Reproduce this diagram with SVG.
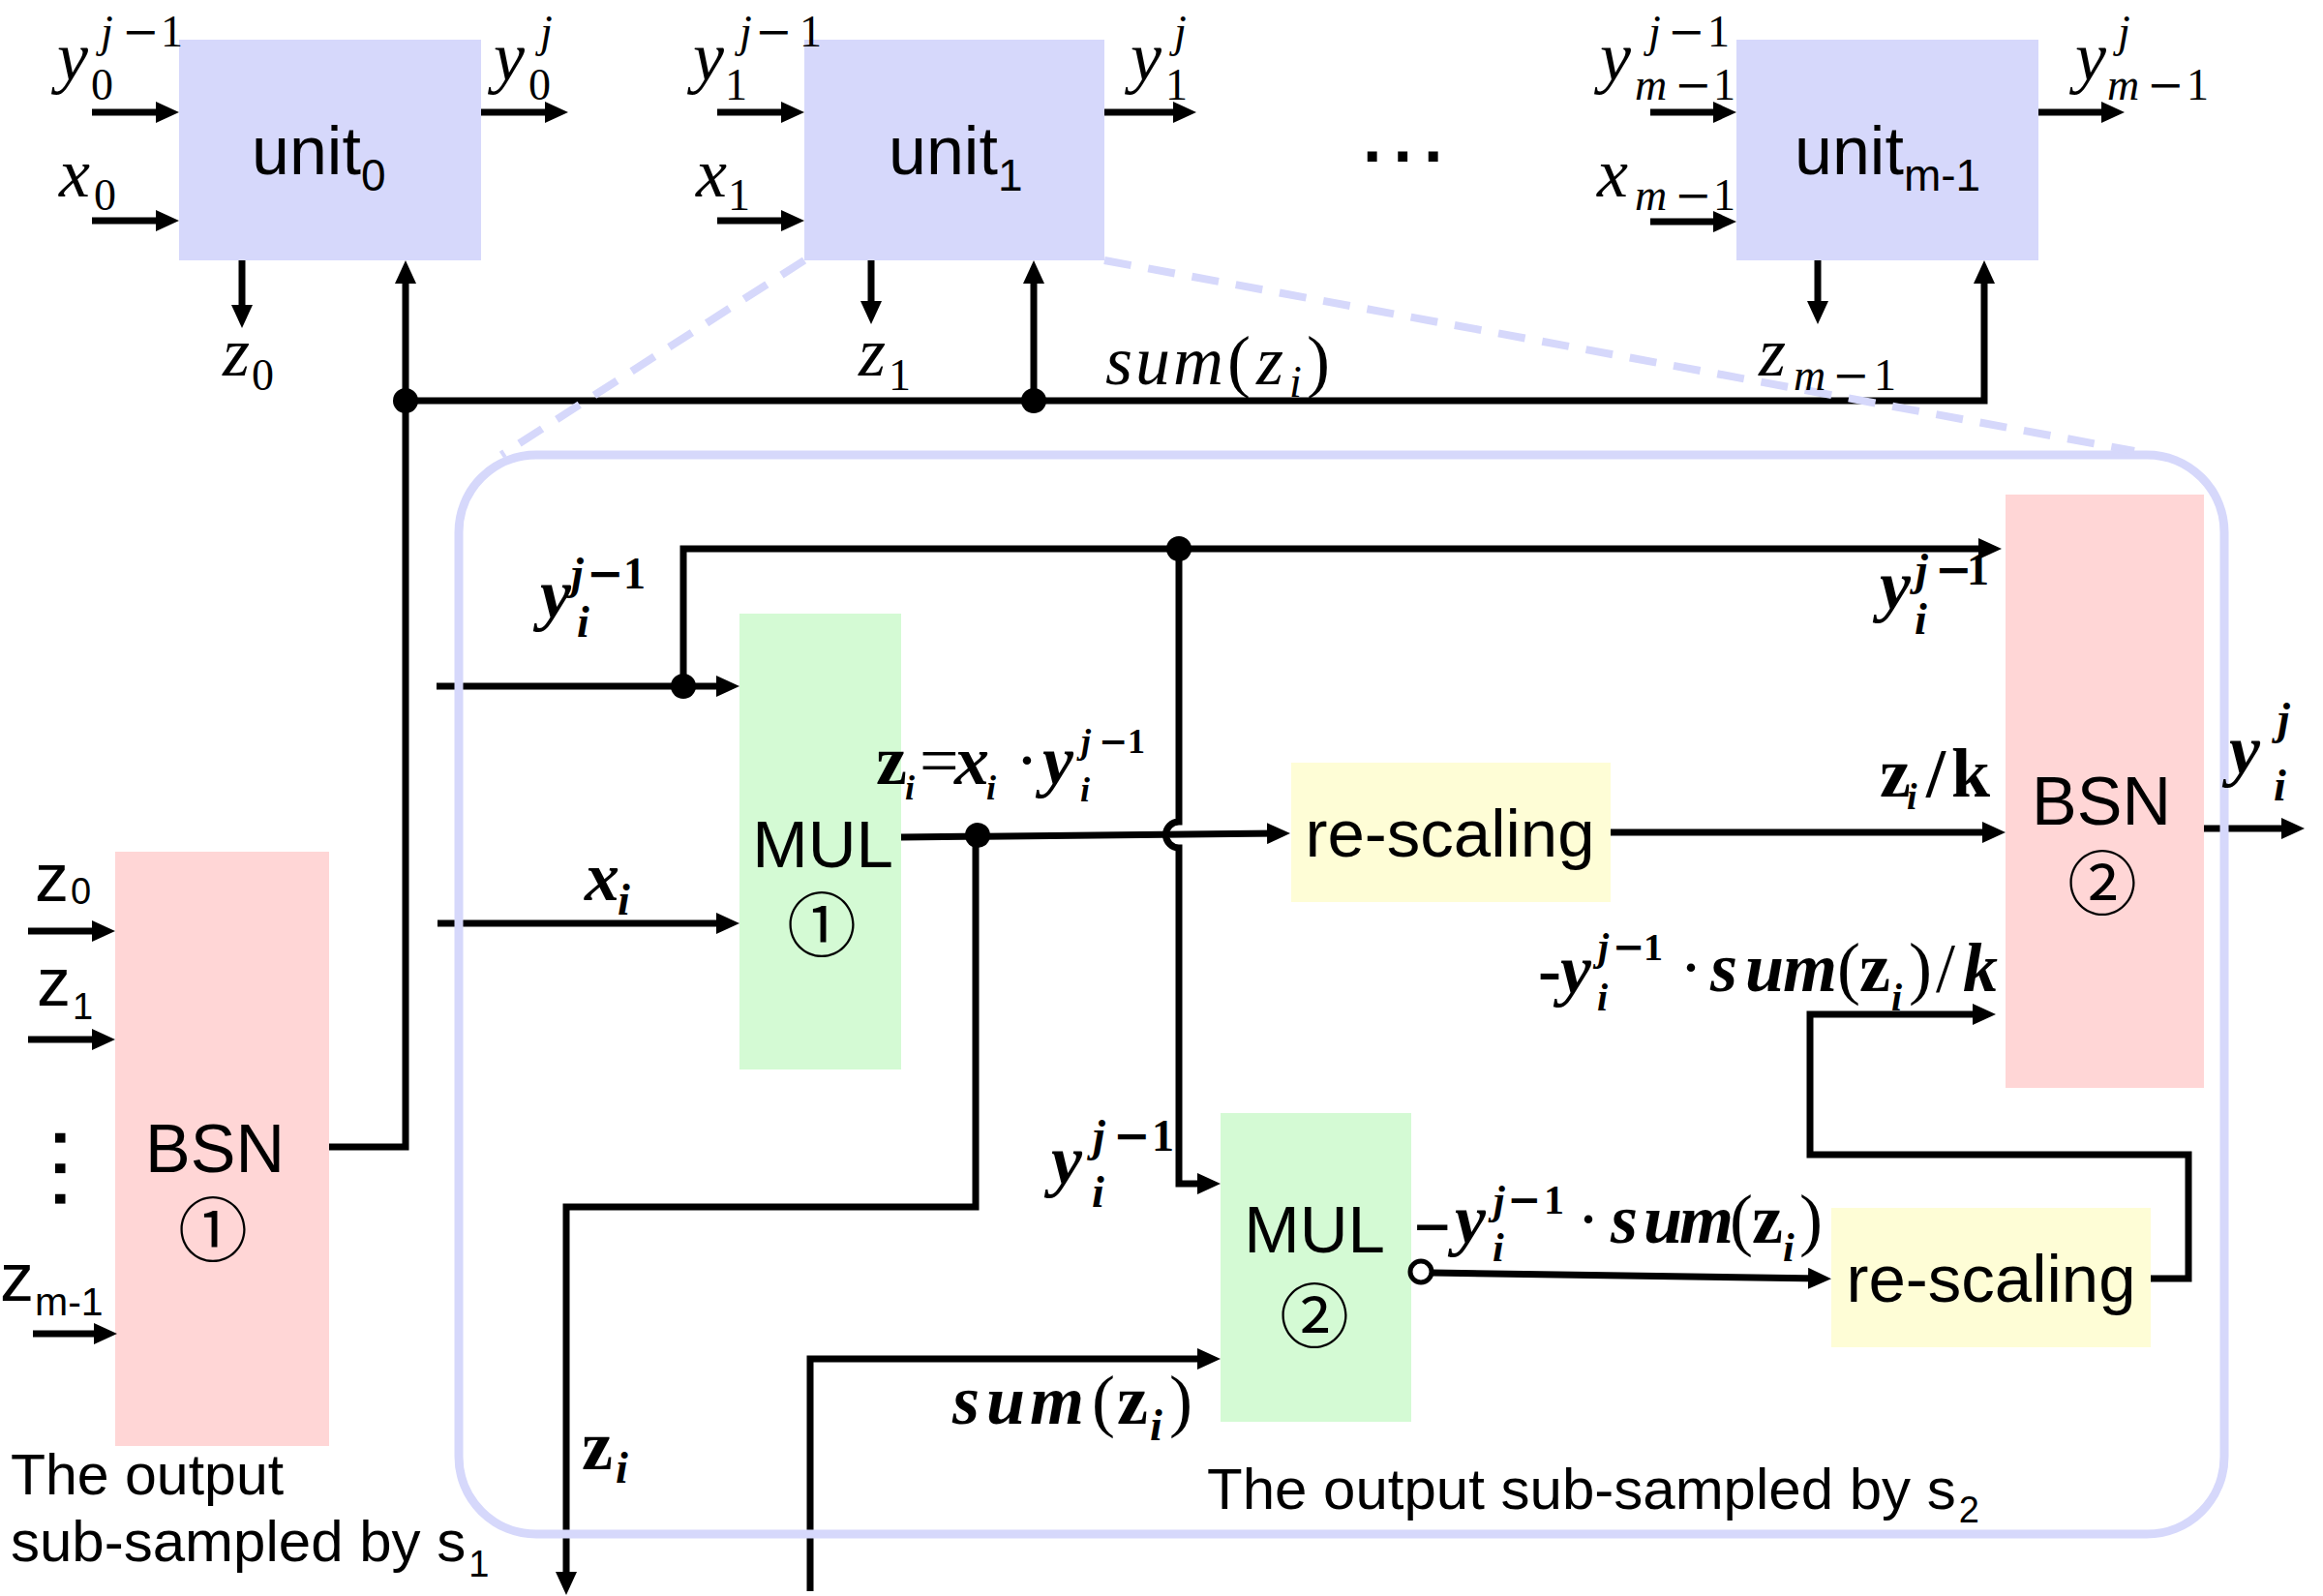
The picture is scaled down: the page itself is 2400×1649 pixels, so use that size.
<svg xmlns="http://www.w3.org/2000/svg" width="2400" height="1649" viewBox="0 0 2400 1649">
<defs>
<marker id="ah" viewBox="0 0 24 22" refX="14" refY="11" markerWidth="24" markerHeight="22" markerUnits="userSpaceOnUse" orient="auto"><path d="M0,0 L24,11 L0,22 z" fill="#000"/></marker>
</defs>
<style>
.w{fill:none;stroke:#000;stroke-width:7}
.a{marker-end:url(#ah)}
.unit{fill:#d6d8fb}
.mul{fill:#d4fad4}
.bsn{fill:#ffd6d6}
.rs{fill:#fefdd6}
.sf{font-family:"Liberation Sans",Arial,sans-serif;fill:#000}
.m{font-family:"Liberation Serif","Times New Roman",serif;font-style:italic;font-size:72px;fill:#000}
.s{font-size:46px}
.u{font-style:normal}
.mn{font-family:"DejaVu Serif",serif;font-style:normal}
.b{font-weight:bold}
.c{font-family:"Noto Sans CJK SC","Noto Sans CJK JP",sans-serif;font-size:72px;font-weight:normal}
.dash{fill:none;stroke:#d6d8fb;stroke-width:8;stroke-dasharray:28 18}
.dot{fill:#000}
</style>
<rect x="0" y="0" width="2400" height="1649" fill="#fff"/>

<g id="unit0">
<rect class="unit" x="185" y="41" width="312" height="228"/>
<text class="sf" font-size="70"><tspan x="260" y="180">unit</tspan><tspan dy="17" font-size="46">0</tspan></text>
</g>
<g id="unit1">
<rect class="unit" x="831" y="41" width="310" height="228"/>
<text class="sf" font-size="70"><tspan x="918" y="180">unit</tspan><tspan dy="17" font-size="46">1</tspan></text>
</g>
<g id="unitm1">
<rect class="unit" x="1794" y="41" width="312" height="228"/>
<text class="sf" font-size="70"><tspan x="1854" y="180">unit</tspan><tspan dy="17" font-size="46">m-1</tspan></text>
</g>
<g id="bsn1">
<rect class="bsn" x="119" y="880" width="221" height="614"/>
<text class="sf" font-size="70" text-anchor="middle" x="222" y="1211">BSN</text>
<text class="c" text-anchor="middle" x="220" y="1297">①</text>
</g>
<g id="mul1">
<rect class="mul" x="764" y="634" width="167" height="471"/>
<text class="sf" font-size="69" text-anchor="middle" x="850" y="896">MUL</text>
<text class="c" text-anchor="middle" x="849" y="982">①</text>
</g>
<g id="mul2">
<rect class="mul" x="1261" y="1150" width="197" height="319"/>
<text class="sf" font-size="69" text-anchor="middle" x="1358" y="1294">MUL</text>
<text class="c" text-anchor="middle" x="1358" y="1386">②</text>
</g>
<g id="rescale1">
<rect class="rs" x="1334" y="788" width="330" height="144"/>
<text class="sf" font-size="69" text-anchor="middle" x="1498" y="885">re-scaling</text>
</g>
<g id="rescale2">
<rect class="rs" x="1892" y="1248" width="330" height="144"/>
<text class="sf" font-size="69" text-anchor="middle" x="2057" y="1345">re-scaling</text>
</g>
<g id="bsn2">
<rect class="bsn" x="2072" y="511" width="205" height="613"/>
<text class="sf" font-size="70" text-anchor="middle" x="2171" y="852">BSN</text>
<text class="c" text-anchor="middle" x="2172" y="939">②</text>
</g>

<g id="connectors" class="w">
<path class="a" d="M95,116H175"/>
<path class="a" d="M95,228H175"/>
<path class="a" d="M497,116H577"/>
<path class="a" d="M250,269V329"/>
<path class="a" d="M741,116H821"/>
<path class="a" d="M741,228H821"/>
<path class="a" d="M1141,116H1226"/>
<path class="a" d="M900,269V325"/>
<path class="a" d="M1705,116H1784"/>
<path class="a" d="M1705,229H1784"/>
<path class="a" d="M2106,116H2185"/>
<path class="a" d="M1878,269V325"/>
<path class="a" d="M340,1185H419V279"/>
<path class="a" d="M419,414H2050V279"/>
<path class="a" d="M1068,414V279"/>
<path class="a" d="M29,962H109"/>
<path class="a" d="M29,1074H109"/>
<path class="a" d="M34,1378H111"/>
<path class="a" d="M451,709H754"/>
<path class="a" d="M706,709V567H2058"/>
<path class="a" d="M452,954H754"/>
<path class="a" d="M931,865L1323,861"/>
<path class="a" d="M1218,567V849A13.5,13.5 0 0 0 1218,876V1223H1251"/>
<path class="a" d="M1008,863V1247H585V1638"/>
<path class="a" d="M837,1644V1404H1251"/>
<path class="a" d="M1479,1315L1882,1321"/>
<path class="a" d="M2222,1321H2261V1193H1870V1048H2052"/>
<path class="a" d="M1664,860H2062"/>
<path class="a" d="M2277,856H2371"/>
<circle class="dot" cx="419" cy="414" r="13" stroke="none"/>
<circle class="dot" cx="1068" cy="414" r="13" stroke="none"/>
<circle class="dot" cx="706" cy="709" r="13" stroke="none"/>
<circle class="dot" cx="1218" cy="567" r="13" stroke="none"/>
<circle class="dot" cx="1010" cy="863" r="13" stroke="none"/>
<circle cx="1468" cy="1314" r="11" fill="#fff" stroke-width="5"/>
</g>

<g id="container">
<rect x="474" y="470" width="1824" height="1115" rx="80" fill="none" stroke="#d6d8fb" stroke-width="9"/>
<path class="dash" d="M831,269L518,470"/>
<path class="dash" d="M1141,269L2205,466"/>
</g>

<g id="labels">
<text class="m"><tspan x="59" y="83">y</tspan><tspan class="s u" x="94" y="103">0</tspan><tspan class="s" x="104" y="48">j</tspan><tspan class="s mn" x="126" y="48">−</tspan><tspan class="s u" x="166" y="48">1</tspan></text>
<text class="m"><tspan x="61" y="203">x</tspan><tspan class="s u" x="97" y="217">0</tspan></text>
<text class="m"><tspan x="510" y="83">y</tspan><tspan class="s u" x="546" y="103">0</tspan><tspan class="s" x="558" y="48">j</tspan></text>
<text class="m"><tspan x="230" y="388">z</tspan><tspan class="s u" x="260" y="403">0</tspan></text>

<text class="m"><tspan x="716" y="83">y</tspan><tspan class="s u" x="749" y="103">1</tspan><tspan class="s" x="764" y="48">j</tspan><tspan class="s mn" x="780" y="48">−</tspan><tspan class="s u" x="826" y="48">1</tspan></text>
<text class="m"><tspan x="719" y="203">x</tspan><tspan class="s u" x="752" y="217">1</tspan></text>
<text class="m"><tspan x="1168" y="83">y</tspan><tspan class="s u" x="1204" y="103">1</tspan><tspan class="s" x="1213" y="48">j</tspan></text>
<text class="m"><tspan x="887" y="388">z</tspan><tspan class="s u" x="918" y="403">1</tspan></text>
<text class="m"><tspan x="1142" y="397" letter-spacing="3">sum</tspan><tspan class="u" x="1268" y="397">(</tspan><tspan x="1298" y="397">z</tspan><tspan class="s" x="1332" y="410">i</tspan><tspan class="u" x="1350" y="397">)</tspan></text>

<text class="m"><tspan x="1653" y="83">y</tspan><tspan class="s" x="1689" y="103">m</tspan><tspan class="s mn" x="1730" y="103">−</tspan><tspan class="s u" x="1770" y="103">1</tspan><tspan class="s" x="1703" y="48">j</tspan><tspan class="s mn" x="1723" y="48">−</tspan><tspan class="s u" x="1764" y="48">1</tspan></text>
<text class="m"><tspan x="1650" y="203">x</tspan><tspan class="s" x="1689" y="217">m</tspan><tspan class="s mn" x="1730" y="217">−</tspan><tspan class="s u" x="1770" y="217">1</tspan></text>
<text class="m"><tspan x="2144" y="83">y</tspan><tspan class="s" x="2177" y="103">m</tspan><tspan class="s mn" x="2218" y="103">−</tspan><tspan class="s u" x="2259" y="103">1</tspan><tspan class="s" x="2188" y="48">j</tspan></text>
<text class="m"><tspan x="1817" y="388">z</tspan><tspan class="s" x="1853" y="403">m</tspan><tspan class="s mn" x="1893" y="403">−</tspan><tspan class="s u" x="1936" y="403">1</tspan></text>

<text class="sf b" font-size="70" x="1408" y="167" letter-spacing="12">...</text>

<text class="sf" font-size="70"><tspan x="36" y="931">z</tspan><tspan x="73" y="934" font-size="38">0</tspan></text>
<text class="sf" font-size="70"><tspan x="38" y="1039">z</tspan><tspan x="75" y="1053" font-size="38">1</tspan></text>
<text class="sf" font-size="70"><tspan x="0" y="1344">z</tspan><tspan x="36" y="1359" font-size="41">m-1</tspan></text>
<text class="sf b" font-size="70" transform="translate(57,1166) rotate(90)" letter-spacing="12">...</text>

<text class="sf" font-size="59" x="11" y="1544">The output</text>
<text class="sf" font-size="60"><tspan x="11" y="1613">sub-sampled by s</tspan><tspan dx="3" dy="16" font-size="38">1</tspan></text>
<text class="sf" font-size="60"><tspan x="1247" y="1559">The output sub-sampled by s</tspan><tspan dx="3" dy="14" font-size="38">2</tspan></text>

<g class="b">
<text class="m" font-size="66"><tspan x="558" y="638">y</tspan><tspan class="s" x="596" y="658">i</tspan><tspan class="s" x="590" y="608">j</tspan><tspan class="s mn" x="606" y="608">−</tspan><tspan class="s u" x="644" y="608">1</tspan></text>
<text class="m"><tspan x="604" y="930">x</tspan><tspan class="s" x="638" y="945">i</tspan></text>
<text class="m" font-size="52"><tspan class="u" x="905" y="810">z</tspan><tspan x="935" y="826" font-size="36">i</tspan><tspan class="u" x="950" y="810" font-weight="normal">=</tspan><tspan x="986" y="810">x</tspan><tspan x="1019" y="826" font-size="36">i</tspan><tspan class="u" x="1049" y="810" font-weight="normal">·</tspan><tspan x="1077" y="810">y</tspan><tspan x="1116" y="828" font-size="36">i</tspan><tspan x="1117" y="778" font-size="36">j</tspan><tspan class="mn" x="1135" y="778" font-size="36">−</tspan><tspan class="u" x="1165" y="778" font-size="36">1</tspan></text>
<text class="m" font-size="66"><tspan x="1942" y="629">y</tspan><tspan class="s" x="1978" y="655">i</tspan><tspan class="s" x="1979" y="604">j</tspan><tspan class="s mn" x="1999" y="604">−</tspan><tspan class="s u" x="2032" y="604">1</tspan></text>
<text class="m" font-size="56"><tspan class="u" x="1942" y="823">z</tspan><tspan x="1970" y="836" font-size="38">i</tspan><tspan class="u" x="1990" y="823">/</tspan><tspan class="u" x="2016" y="823">k</tspan></text>
<text class="m" font-size="80"><tspan x="2303" y="799">y</tspan><tspan class="s" x="2349" y="827">i</tspan><tspan class="s" x="2353" y="758">j</tspan></text>
<text class="m" font-size="58"><tspan class="u" x="1589" y="1026">-</tspan><tspan x="1612" y="1026">y</tspan><tspan x="1650" y="1044" font-size="40">i</tspan><tspan x="1651" y="992" font-size="40">j</tspan><tspan class="mn" x="1666" y="992" font-size="40">−</tspan><tspan class="u" x="1698" y="992" font-size="40">1</tspan><tspan class="u" x="1735" y="1024" font-weight="normal">·</tspan><tspan x="1767" y="1024">s</tspan><tspan x="1803" y="1024">u</tspan><tspan x="1842" y="1024">m</tspan><tspan class="u" x="1898" y="1024" font-weight="normal">(</tspan><tspan class="u" x="1921" y="1024">z</tspan><tspan x="1954" y="1044" font-size="40">i</tspan><tspan class="u" x="1972" y="1024" font-weight="normal">)</tspan><tspan class="u" x="2000" y="1024" font-weight="normal">/</tspan><tspan x="2028" y="1024">k</tspan></text>
<text class="m" font-size="62"><tspan class="mn" x="1459" y="1284" font-size="50">−</tspan><tspan x="1503" y="1284">y</tspan><tspan x="1542" y="1303" font-size="42">i</tspan><tspan x="1543" y="1254" font-size="42">j</tspan><tspan class="mn" x="1557" y="1254" font-size="42">−</tspan><tspan class="u" x="1595" y="1254" font-size="42">1</tspan><tspan class="u" x="1629" y="1284" font-weight="normal">·</tspan><tspan x="1664" y="1284">s</tspan><tspan x="1698" y="1284">u</tspan><tspan x="1735" y="1284">m</tspan><tspan class="u" x="1787" y="1284" font-weight="normal">(</tspan><tspan class="u" x="1810" y="1284">z</tspan><tspan x="1842" y="1303" font-size="42">i</tspan><tspan class="u" x="1859" y="1284" font-weight="normal">)</tspan></text>
<text class="m" font-size="76"><tspan x="984" y="1471">s</tspan><tspan x="1019" y="1471">u</tspan><tspan x="1064" y="1471">m</tspan><tspan class="u" x="1128" y="1471" font-weight="normal">(</tspan><tspan class="u" x="1154" y="1471">z</tspan><tspan x="1188" y="1488" font-size="46">i</tspan><tspan class="u" x="1208" y="1471" font-weight="normal">)</tspan></text>
<text class="m"><tspan class="u" x="601" y="1518">z</tspan><tspan class="s" x="636" y="1532">i</tspan></text>
<text class="m" font-size="68"><tspan x="1086" y="1223">y</tspan><tspan class="s" x="1128" y="1247">i</tspan><tspan class="s" x="1129" y="1189">j</tspan><tspan class="s mn" x="1150" y="1189">−</tspan><tspan class="s u" x="1190" y="1189">1</tspan></text>
</g>
</g>
</svg>
